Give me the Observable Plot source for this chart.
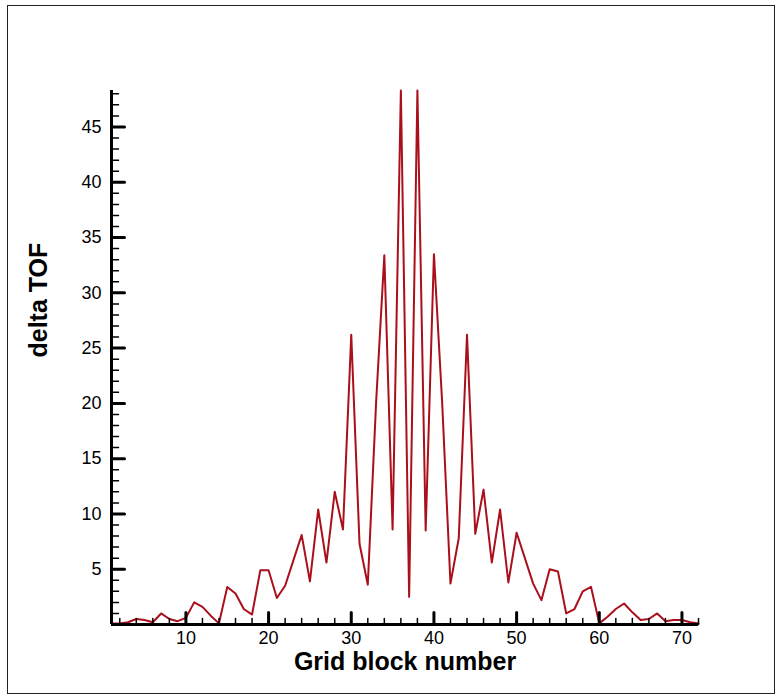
<!DOCTYPE html>
<html><head><meta charset="utf-8">
<script src="https://cdn.jsdelivr.net/npm/d3@7"></script>
<script src="https://cdn.jsdelivr.net/npm/@observablehq/plot@0.6"></script>
<style>
html,body{margin:0;padding:0;background:#fff;}
#chart{position:absolute;left:0;top:0;}
#frame{position:absolute;left:7px;top:5px;width:768px;height:689px;border:1.5px solid #222;box-sizing:border-box;pointer-events:none;}
</style></head><body><div id="chart"></div><div id="frame"></div>
<script>
const blocks = d3.range(1, 73);
const deltaTOF = [
  0.1, 0.1, 0.2, 0.5, 0.4, 0.2, 1.0, 0.5, 0.3, 0.6,
  2.0, 1.6, 0.8, 0.1, 3.4, 2.8, 1.4, 0.9, 4.9, 4.9,
  2.4, 3.5, 5.8, 8.1, 3.9, 10.4, 5.6, 12.0, 8.6, 26.2,
  7.3, 3.6, 20.0, 33.4, 8.6, 48.3, 2.5, 48.3, 8.5, 33.5,
  20.0, 3.7, 7.8, 26.2, 8.2, 12.2, 5.6, 10.4, 3.8, 8.3,
  6.0, 3.7, 2.2, 5.0, 4.8, 1.0, 1.4, 3.0, 3.4, 0.1,
  0.7, 1.4, 1.9, 1.1, 0.4, 0.5, 1.0, 0.3, 0.4, 0.4,
  0.2, 0.1
];
const xMajorTicks = [10, 20, 30, 40, 50, 60, 70];
const xMinorTicks = [2, 4, 6, 8, 12, 14, 16, 18, 22, 24, 26, 28, 32, 34, 36, 38, 42, 44, 46, 48, 52, 54, 56, 58, 62, 64, 66, 68, 72];
const yMajorTicks = [5, 10, 15, 20, 25, 30, 35, 40, 45];
const yMinorTicks = [1, 2, 3, 4, 6, 7, 8, 9, 11, 12, 13, 14, 16, 17, 18, 19, 21, 22, 23, 24, 26, 27, 28, 29, 31, 32, 33, 34, 36, 37, 38, 39, 41, 42, 43, 44, 46, 47, 48];
const xLabel = "Grid block number";
const yLabel = "delta TOF";

const data = blocks.map((b, i) => ({block: b, tof: deltaTOF[i]}));
const tickShape = {draw(ctx, l) { ctx.moveTo(0, 0); ctx.lineTo(0, -l); }};

const chart = Plot.plot({
  width: 782,
  height: 700,
  marginLeft: 111,
  marginRight: 84,
  marginTop: 90,
  marginBottom: 76,
  style: {fontFamily: "'Liberation Sans', Arial, sans-serif", background: "transparent", color: "#000"},
  x: {domain: [1, 72], axis: null},
  y: {domain: [0, 48.3], axis: null},
  marks: [
    Plot.line(data, {x: "block", y: "tof", stroke: "#aa0f1c", strokeWidth: 2}),
    Plot.vector(xMinorTicks, {x: d => d, frameAnchor: "bottom", length: 6, rotate: 0, anchor: "start", shape: tickShape, stroke: "#000", strokeWidth: 1.5}),
    Plot.vector(xMajorTicks, {x: d => d, frameAnchor: "bottom", length: 12, rotate: 0, anchor: "start", shape: tickShape, stroke: "#000", strokeWidth: 3}),
    Plot.vector(yMinorTicks, {y: d => d, frameAnchor: "left", length: 7, rotate: 90, anchor: "start", shape: tickShape, stroke: "#000", strokeWidth: 1.5}),
    Plot.vector(yMajorTicks, {y: d => d, frameAnchor: "left", length: 13, rotate: 90, anchor: "start", shape: tickShape, stroke: "#000", strokeWidth: 3}),
    Plot.ruleY([0], {stroke: "#000", strokeWidth: 3}),
    Plot.ruleX([1], {stroke: "#000", strokeWidth: 3}),
    Plot.axisX(xMajorTicks, {tickSize: 0, tickPadding: 7, fontSize: 18, label: null}),
    Plot.axisY(yMajorTicks, {tickSize: 0, tickPadding: 10, fontSize: 18, label: null}),
    Plot.text([xLabel], {frameAnchor: "bottom", dy: 45, fontSize: 25, fontWeight: "bold", fill: "#000"}),
    Plot.text([yLabel], {frameAnchor: "left", dx: -73, rotate: -90, fontSize: 25, fontWeight: "bold", fill: "#000"})
  ]
});
document.getElementById("chart").append(chart);
</script></body></html>
